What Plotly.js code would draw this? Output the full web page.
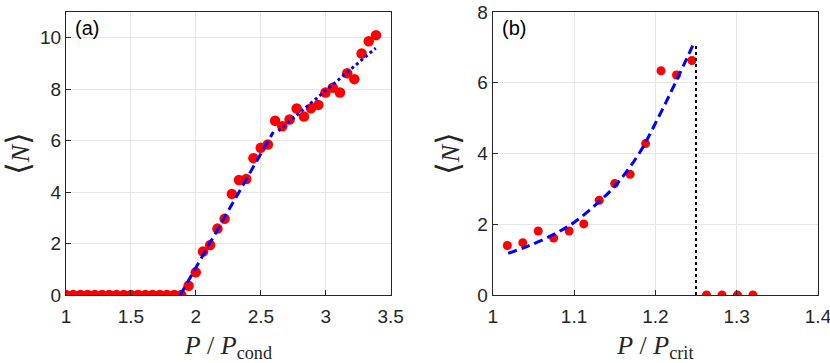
<!DOCTYPE html>
<html>
<head>
<meta charset="utf-8">
<script src="https://cdn.plot.ly/plotly-3.0.1.min.js"></script>
<style>
  html, body { margin: 0; padding: 0; background: #fff; }
  #chart { width: 830px; height: 363px; }
</style>
</head>
<body>
<div id="chart"></div>
<script>
// panel (a): <N> vs P/Pcond
const condX = [1.000, 1.056, 1.111, 1.167, 1.222, 1.278, 1.333, 1.389, 1.444, 1.500,
  1.555, 1.611, 1.666, 1.722, 1.777, 1.833, 1.888, 1.944, 1.999, 2.055,
  2.110, 2.166, 2.221, 2.277, 2.332, 2.388, 2.443, 2.499, 2.554, 2.610,
  2.665, 2.721, 2.776, 2.832, 2.887, 2.943, 2.998, 3.054, 3.109, 3.165,
  3.220, 3.276, 3.331, 3.387];
const condN = [0, 0, 0, 0, 0, 0, 0, 0, 0, 0,
  0, 0, 0, 0, 0, 0, 0, 0.36, 0.88, 1.69,
  1.94, 2.58, 2.96, 3.93, 4.47, 4.51, 5.32, 5.72, 5.85, 6.77,
  6.56, 6.82, 7.25, 6.94, 7.26, 7.39, 7.87, 8.06, 7.87, 8.62,
  8.39, 9.39, 9.86, 10.10];
const condDashX = [1.880, 2.596];
const condDashY = [0, 6.34];
const condDotX = [2.635, 3.385];
const condDotY = [6.38, 9.60];

// panel (b): <N> vs P/Pcrit
const critX = [1.018, 1.037, 1.056, 1.075, 1.094, 1.112, 1.131, 1.150, 1.169,
  1.188, 1.207, 1.226, 1.245, 1.263, 1.282, 1.301, 1.320];
const critN = [1.40, 1.48, 1.81, 1.61, 1.81, 2.01, 2.68, 3.15, 3.41,
  4.28, 6.34, 6.22, 6.63, 0, 0, 0, 0];
const critFitX = [1.019, 1.042, 1.074, 1.100, 1.131, 1.153, 1.180, 1.204, 1.224, 1.247];
const critFitY = [1.18, 1.37, 1.70, 2.05, 2.64, 3.15, 4.00, 5.03, 5.97, 7.10];
const critLineX = [1.25, 1.25];
const critLineY = [0, 7.1];

const ink = '#262626';
const red = '#ff0000';
const blue = '#0000ff';

const traces = [
  { x: condX, y: condN, xaxis: 'x', yaxis: 'y', mode: 'markers', type: 'scatter',
    marker: { color: red, size: 10.5 } },
  { x: condDashX, y: condDashY, xaxis: 'x', yaxis: 'y', mode: 'lines', type: 'scatter',
    line: { color: blue, width: 3, dash: '9px,5px' } },
  { x: condDotX, y: condDotY, xaxis: 'x', yaxis: 'y', mode: 'lines', type: 'scatter',
    line: { color: blue, width: 3, dash: 'dot' } },
  { x: critX, y: critN, xaxis: 'x2', yaxis: 'y2', mode: 'markers', type: 'scatter',
    marker: { color: red, size: 9 } },
  { x: critFitX, y: critFitY, xaxis: 'x2', yaxis: 'y2', mode: 'lines', type: 'scatter',
    line: { color: blue, width: 3, dash: '9px,5px', shape: 'spline' } },
  { x: critLineX, y: critLineY, xaxis: 'x2', yaxis: 'y2', mode: 'lines', type: 'scatter',
    line: { color: '#000', width: 2, dash: 'dot' } },
];

function axis(extra) {
  return Object.assign({
    showline: true, mirror: true, linecolor: ink, linewidth: 1,
    ticks: 'inside', ticklen: 5, tickcolor: ink,
    showgrid: true, gridcolor: '#e6e6e6', zeroline: false,
    ticklabeloverflow: 'allow',
    tickfont: { family: 'Liberation Sans, Arial, sans-serif', size: 19, color: ink },
  }, extra);
}

const titleFont = { family: 'Liberation Serif, DejaVu Serif, serif', size: 26, color: ink };
const nTitle = '<span style="font-size:32px">⟨</span><i>N</i><span style="font-size:32px">⟩</span>';

const layout = {
  width: 830, height: 363,
  margin: { l: 66, r: 12, t: 12, b: 68 },
  showlegend: false,
  paper_bgcolor: '#fff', plot_bgcolor: '#fff',
  xaxis: axis({ domain: [0, 0.4318], range: [1, 3.50001], tickvals: [1, 1.5, 2, 2.5, 3, 3.5],
    anchor: 'y', ticklabelstandoff: 4,
    title: { text: '<i>P</i> / <i>P</i><sub>cond</sub>', font: titleFont, standoff: 12 } }),
  yaxis: axis({ range: [0, 11], tickvals: [0, 2, 4, 6, 8, 10], anchor: 'x',
    title: { text: nTitle, font: titleFont, standoff: 10 } }),
  xaxis2: axis({ domain: [0.5674, 1], range: [1, 1.40001], tickvals: [1, 1.1, 1.2, 1.3, 1.4],
    anchor: 'y2', ticklabelstandoff: 4,
    title: { text: '<i>P</i> / <i>P</i><sub>crit</sub>', font: titleFont, standoff: 12 } }),
  yaxis2: axis({ range: [0, 8.00001], tickvals: [0, 2, 4, 6, 8], anchor: 'x2',
    title: { text: nTitle, font: titleFont, standoff: 10 } }),
  annotations: [
    { text: '(a)', xref: 'x domain', yref: 'y domain', x: 0.022, y: 0.99,
      xanchor: 'left', yanchor: 'top', showarrow: false,
      font: { family: 'Liberation Sans, Arial, sans-serif', size: 20, color: '#000' } },
    { text: '(b)', xref: 'x2 domain', yref: 'y2 domain', x: 0.022, y: 0.99,
      xanchor: 'left', yanchor: 'top', showarrow: false,
      font: { family: 'Liberation Sans, Arial, sans-serif', size: 20, color: '#000' } },
  ],
};

Plotly.newPlot('chart', traces, layout, { staticPlot: true, displayModeBar: false });
</script>
</body>
</html>
